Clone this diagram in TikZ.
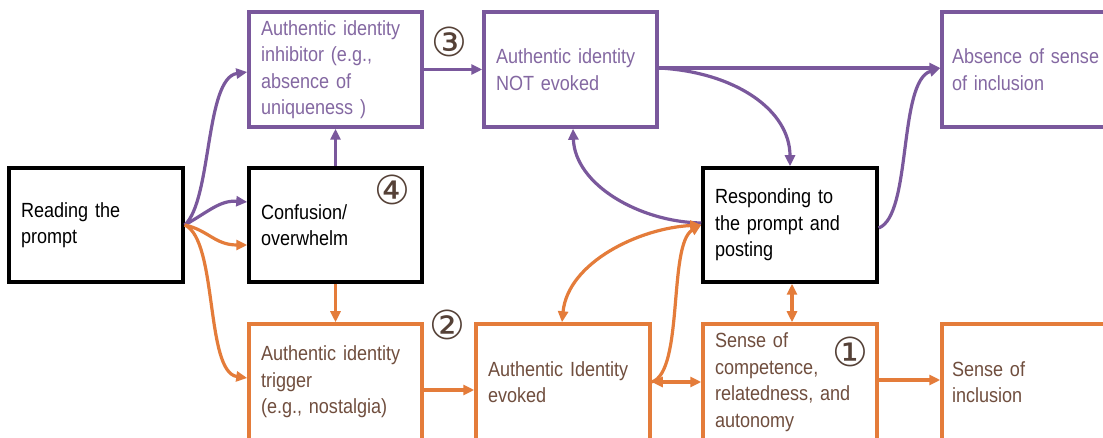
\documentclass[tikz,border=0pt]{standalone}
\usepackage{fontspec}
\setmainfont{Liberation Sans}[FakeStretch=0.88,WordSpace=0.8]
\newfontfamily\numfont{DejaVu Sans}
\usetikzlibrary{arrows.meta}
\definecolor{pur}{RGB}{122,88,156}
\definecolor{purtxt}{RGB}{132,104,162}
\definecolor{ora}{RGB}{228,124,58}
\definecolor{oratxt}{RGB}{112,78,62}
\definecolor{numc}{RGB}{85,65,55}
\tikzset{
  bx/.style={draw, line width=3.5pt, inner sep=0pt, align=left, anchor=center,
    font=\fontsize{20.5}{26.5}\selectfont},
  blk/.style={bx, draw=black, text=black},
  pbx/.style={bx, draw=pur, text=purtxt},
  obx/.style={bx, draw=ora, text=oratxt},
  parr/.style={draw=pur, line width=3.2pt, -{Triangle[length=11pt,width=10pt]}},
  oarr/.style={draw=ora, line width=3.2pt, -{Triangle[length=11pt,width=10pt]}},
  odbl/.style={draw=ora, line width=3.2pt, {Triangle[length=11pt,width=10pt]}-{Triangle[length=11pt,width=10pt]}},
  num/.style={font=\numfont\fontsize{40}{40}\selectfont, text=numc, inner sep=0pt}
}
\begin{document}
\begin{tikzpicture}[x=1pt,y=-1pt]
\useasboundingbox (0,0) rectangle (1103,438);
\clip (0,0) rectangle (1103,438);
\fill[white] (0,0) rectangle (1103,438);
% boxes
\node[blk, minimum width=174pt, minimum height=114pt, text width=150pt] (read) at (96,225) {Reading the\\prompt};
\node[blk, minimum width=173pt, minimum height=114pt, text width=149pt] (conf) at (335.5,225) {Confusion/\\overwhelm};
\node[pbx, minimum width=173pt, minimum height=115pt, text width=149pt] (inhib) at (335.5,69.5) {Authentic identity\\inhibitor (e.g.,\\absence of\\uniqueness )};
\node[pbx, minimum width=173pt, minimum height=115pt, text width=149pt] (notev) at (570.5,69.5) {Authentic identity\\NOT evoked};
\node[pbx, minimum width=175pt, minimum height=115pt, text width=155pt] (abs) at (1029.5,69.5) {Absence of sense\\of inclusion};
\node[blk, minimum width=174pt, minimum height=114pt, text width=150pt] (resp) at (790,225) {Responding to\\the prompt and\\posting};
\node[obx, minimum width=173pt, minimum height=116pt, text width=149pt] (trig) at (335.5,382) {Authentic identity\\trigger\\(e.g., nostalgia)};
\node[obx, minimum width=174pt, minimum height=116pt, text width=150pt] (evok) at (563,382) {Authentic Identity\\evoked};
\node[obx, minimum width=174pt, minimum height=116pt, text width=150pt] (comp) at (790,382) {Sense of\\competence,\\relatedness, and\\autonomy};
\node[obx, minimum width=175pt, minimum height=116pt, text width=155pt] (incl) at (1029.5,382) {Sense of\\inclusion};
% circled numbers
\node[num] (n3) at (449,42) {③};
\node[num] (n4) at (392,190) {④};
\node[num] (n2) at (447,325) {②};
\node[num] (n1) at (850,352) {①};
% purple connectors
\draw[parr] (read.east) .. controls (212,200) and (205,78) .. ([yshift=-2.5pt]inhib.west);
\draw[parr] (read.east) .. controls (208,212) and (220,200) .. ([yshift=23pt]conf.west);
\draw[parr] (conf.north) -- (inhib.south);
\draw[parr] (inhib.east) -- (notev.west);
\draw[parr] ([yshift=1.5pt]notev.east) -- ([yshift=1.5pt]abs.west);
\draw[parr] ([yshift=1.5pt]notev.east) .. controls (735,72) and (790,110) .. (resp.north);
\draw[parr] ([yshift=2pt]resp.west) .. controls (640,222) and (575,185) .. ([xshift=2.5pt]notev.south);
\draw[parr] ([yshift=-3pt]resp.east) .. controls (912,215) and (898,82) .. ([yshift=1.5pt]abs.west);
% orange connectors
\draw[oarr] (read.east) .. controls (208,230) and (215,245) .. ([yshift=-20pt]conf.west);
\draw[oarr] (read.east) .. controls (218,240) and (205,372) .. ([yshift=4pt]trig.west);
\draw[oarr] (conf.south) -- (trig.north);
\draw[oarr] ([yshift=-8pt]trig.east) -- ([yshift=-8pt]evok.west);
\draw[odbl] ([xshift=-1pt]evok.north) .. controls (568,262) and (640,228) .. (resp.west);
\draw[odbl] (evok.east) -- (comp.west);
\draw[oarr] (evok.east) .. controls (684,372) and (668,244) .. (resp.west);
\draw[odbl] ([xshift=2pt]resp.south) -- ([xshift=2pt]comp.north);
\draw[oarr] ([yshift=2pt]comp.east) -- ([yshift=2pt]incl.west);
\end{tikzpicture}
\end{document}
